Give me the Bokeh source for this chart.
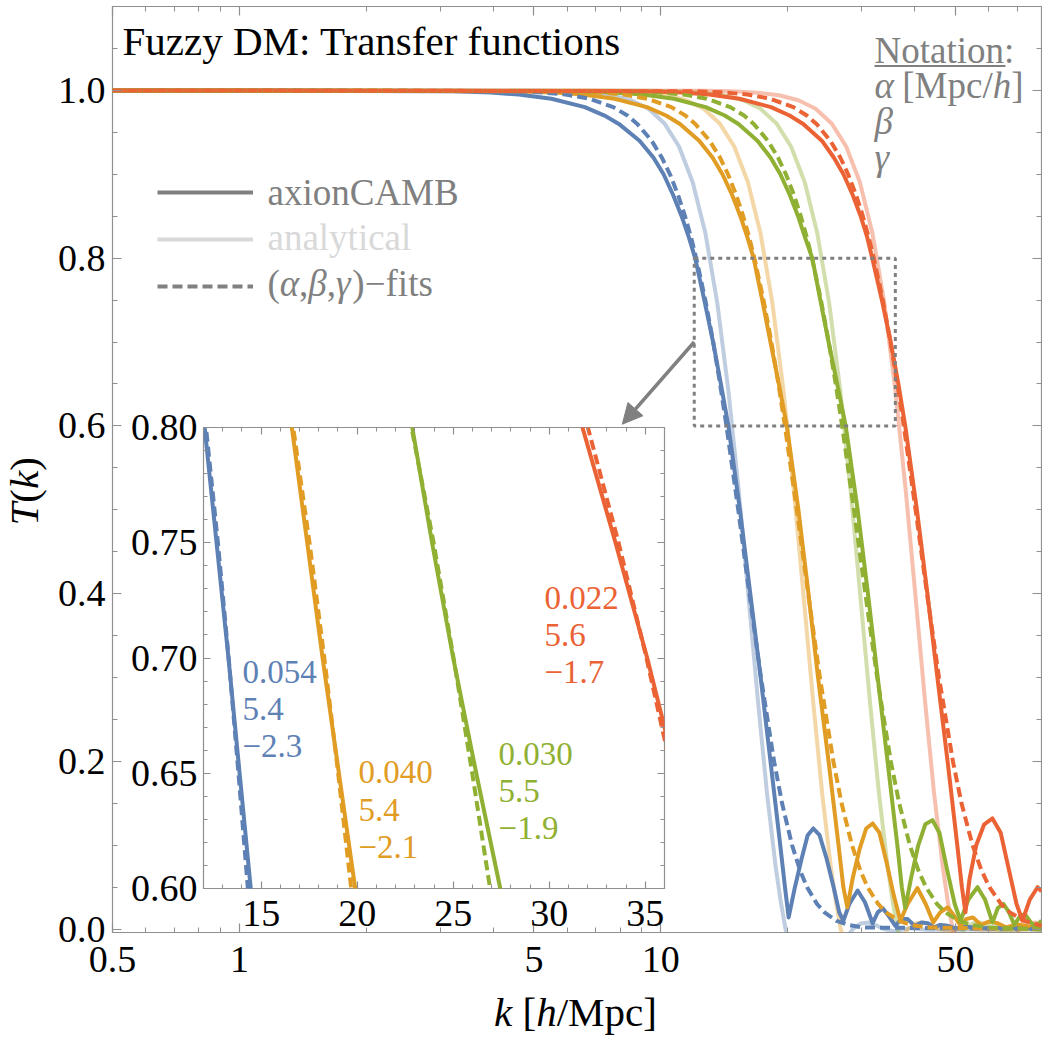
from bokeh.plotting import figure
from bokeh.models import (Range1d, FixedTicker, LogAxis, LinearAxis, Label, Legend, LegendItem,
                          BoxAnnotation, Arrow, NormalHead, CustomJSTickFormatter)
from bokeh.embed import file_html
from bokeh.resources import INLINE
from jinja2 import Template

# ------------------------------------------------------------------ data
series = ["blue", "orange", "green", "red"]
colors = ["#5E81B5", "#E19C24", "#8FB032", "#EB6235"]

# axionCAMB (solid)
camb_k_blue = [0.5, 3.2, 3.95, 4.6, 5.5, 6.6, 7.35, 7.95, 8.9, 9.6, 10.15, 10.7, 11.2, 11.65, 12.06, 12.68,
               13.3, 13.88, 14.46, 15.4, 16.3, 17.25, 18.2, 19.2, 19.7, 20.1, 20.8, 21.6, 22.3, 23.0, 23.8,
               24.7, 25.7, 26.5, 27.1, 28.0, 29.3, 30.5, 31.8, 32.7, 33.6, 34.8, 36.0, 37.2, 38.5, 40.0, 41.5,
               43.0, 44.5, 46.0, 48.0, 50.0, 53.0, 58.0, 65.0, 80.0]
camb_T_blue = [1.0, 0.999, 0.9975, 0.995, 0.99, 0.98, 0.97, 0.96, 0.94, 0.92, 0.90, 0.875, 0.85, 0.825, 0.80,
               0.75, 0.70, 0.65, 0.60, 0.50, 0.40, 0.30, 0.20, 0.10, 0.05, 0.014, 0.05, 0.085, 0.112, 0.12,
               0.112, 0.085, 0.05, 0.02, 0.01, 0.03, 0.046, 0.032, 0.007, 0.02, 0.025, 0.015, 0.004, 0.012,
               0.012, 0.004, 0.008, 0.007, 0.002, 0.005, 0.004, 0.001, 0.003, 0.001, 0.002, 0.001]
camb_k_orange = [0.5, 4.55, 5.61, 6.54, 7.77, 9.27, 10.29, 11.1, 12.33, 13.26, 14.0, 14.77, 15.44, 16.04, 16.6,
                 17.4, 18.2, 19.05, 19.9, 21.2, 22.4, 23.6, 25.0, 26.4, 27.1, 27.7, 28.5, 29.6, 30.7, 31.8,
                 33.0, 34.3, 35.7, 37.0, 38.5, 40.6, 42.5, 44.3, 46.0, 47.9, 49.8, 51.4, 53.0, 55.0, 57.5,
                 60.0, 63.0, 66.0, 70.0, 75.0, 80.0]
camb_T_orange = [1.0, 0.999, 0.9975, 0.995, 0.99, 0.98, 0.97, 0.96, 0.94, 0.92, 0.90, 0.875, 0.85, 0.825, 0.80,
                 0.75, 0.70, 0.65, 0.60, 0.50, 0.40, 0.30, 0.20, 0.10, 0.05, 0.026, 0.06, 0.095, 0.12, 0.126,
                 0.115, 0.08, 0.04, 0.01, 0.03, 0.049, 0.03, 0.008, 0.02, 0.026, 0.015, 0.004, 0.012, 0.014,
                 0.005, 0.009, 0.007, 0.002, 0.006, 0.003, 0.004]
camb_k_green = [0.5, 6.34, 7.78, 9.06, 10.74, 12.78, 14.18, 15.28, 16.95, 18.2, 19.21, 20.24, 21.16, 21.97,
                22.87, 23.9, 25.0, 26.2, 27.45, 29.3, 31.0, 32.7, 34.5, 36.4, 37.3, 38.0, 39.2, 40.8, 42.4,
                44.1, 45.8, 47.8, 49.8, 51.4, 53.6, 56.4, 58.8, 61.2, 63.0, 65.0, 67.0, 69.0, 71.0, 73.0,
                75.5, 77.5, 80.0]
camb_T_green = [1.0, 0.999, 0.9975, 0.995, 0.99, 0.98, 0.97, 0.96, 0.94, 0.92, 0.90, 0.875, 0.85, 0.825, 0.80,
                0.75, 0.70, 0.65, 0.60, 0.50, 0.40, 0.30, 0.20, 0.10, 0.05, 0.025, 0.06, 0.10, 0.125, 0.13,
                0.115, 0.07, 0.03, 0.01, 0.035, 0.05, 0.035, 0.008, 0.025, 0.03, 0.02, 0.005, 0.015, 0.018,
                0.008, 0.003, 0.01]
camb_k_red = [0.5, 9.16, 11.21, 13.01, 15.37, 18.25, 20.2, 21.77, 24.1, 25.72, 27.12, 28.54, 29.79, 30.87,
              31.73, 33.45, 35.1, 36.6, 38.0, 40.5, 42.9, 45.3, 47.9, 50.5, 51.8, 52.8, 54.0, 56.0, 58.5,
              61.2, 64.0, 67.0, 69.8, 72.1, 75.0, 78.3, 80.0]
camb_T_red = [1.0, 0.999, 0.9975, 0.995, 0.99, 0.98, 0.97, 0.96, 0.94, 0.92, 0.90, 0.875, 0.85, 0.825, 0.80,
              0.75, 0.70, 0.65, 0.60, 0.50, 0.40, 0.30, 0.20, 0.10, 0.05, 0.02, 0.06, 0.10, 0.125, 0.132,
              0.115, 0.07, 0.03, 0.01, 0.035, 0.05, 0.045]

# (alpha, beta, gamma)-fits (dashed)
fit_T = [1.0, 0.999, 0.9975, 0.995, 0.99, 0.98, 0.97, 0.96, 0.94, 0.92, 0.90, 0.875, 0.85, 0.825, 0.80, 0.75,
         0.70, 0.65, 0.60, 0.50, 0.40, 0.30, 0.20, 0.15, 0.10, 0.07, 0.05, 0.03, 0.02, 0.01, 0.005, 0.002, 0.0]
fit_k_blue = [0.5, 4.42, 5.24, 5.95, 6.77, 7.71, 8.33, 8.79, 9.51, 10.05, 10.51, 10.99, 11.41, 11.79, 12.13,
              12.75, 13.31, 13.82, 14.31, 15.26, 16.22, 17.28, 18.56, 19.39, 20.48, 21.39, 22.23, 23.47, 24.45,
              26.12, 27.82, 30.15, 80.0]
fit_k_orange = [0.5, 6.06, 7.19, 8.17, 9.30, 10.59, 11.43, 12.07, 13.05, 13.81, 14.43, 15.10, 15.68, 16.20,
                16.67, 17.52, 18.29, 19.01, 19.69, 21.01, 22.36, 23.84, 25.66, 26.84, 28.41, 29.73, 30.94,
                32.77, 34.21, 36.71, 39.28, 42.82, 80.0]
fit_k_green = [0.5, 8.45, 9.98, 11.33, 12.86, 14.61, 15.75, 16.61, 17.94, 18.96, 19.80, 20.70, 21.48, 22.19,
               22.83, 23.98, 25.02, 25.99, 26.92, 28.71, 30.56, 32.60, 35.12, 36.77, 38.97, 40.83, 42.57,
               45.19, 47.28, 50.93, 54.71, 59.99, 80.0]
fit_k_red = [0.5, 12.05, 14.19, 16.06, 18.19, 20.62, 22.20, 23.41, 25.24, 26.65, 27.82, 29.06, 30.15, 31.12,
             32.01, 33.61, 35.06, 36.40, 37.70, 40.21, 42.80, 45.70, 49.31, 51.68, 54.89, 57.64, 60.21, 64.12,
             67.28, 72.83, 78.66, 86.91, 120.0]

# analytical (light)
analytic_T = [1.0, 0.9996, 0.9989, 0.9973, 0.9942, 0.9883, 0.9780, 0.9606, 0.9328, 0.8904, 0.8293, 0.7465,
              0.6422, 0.5214, 0.3934, 0.2702, 0.1617, 0.0755, 0.0349, 0.0, -0.0535, -0.0585, -0.0243, 0.0,
              0.0067, 0.0078, 0.0049, 0.0, -0.0026, 0.0012, -0.0007, 0.0]
analytic_k_blue = [0.5, 5.10, 5.95, 6.80, 7.65, 8.50, 9.35, 10.20, 11.05, 11.90, 12.76, 13.61, 14.46, 15.31,
                   16.16, 17.01, 17.86, 18.71, 19.22, 19.76, 21.26, 23.81, 26.36, 28.52, 29.76, 31.12, 32.31,
                   33.81, 35.71, 39.12, 42.52, 120.0]
analytic_k_orange = [0.5, 6.90, 8.05, 9.20, 10.35, 11.50, 12.64, 13.79, 14.94, 16.09, 17.24, 18.39, 19.54,
                     20.69, 21.84, 22.99, 24.14, 25.29, 25.98, 26.71, 28.74, 32.19, 35.63, 38.55, 40.23, 42.07,
                     43.68, 45.70, 48.28, 52.88, 57.48, 120.0]
analytic_k_green = [0.5, 9.41, 10.97, 12.54, 14.11, 15.68, 17.24, 18.81, 20.38, 21.95, 23.51, 25.08, 26.65,
                    28.22, 29.78, 31.35, 32.92, 34.49, 35.43, 36.43, 39.19, 43.89, 48.59, 52.57, 54.86, 57.37,
                    59.57, 62.32, 65.84, 72.11, 78.38, 120.0]
analytic_k_red = [0.5, 12.71, 14.83, 16.95, 19.07, 21.19, 23.30, 25.42, 27.54, 29.66, 31.78, 33.90, 36.01,
                  38.13, 40.25, 42.37, 44.49, 46.61, 47.88, 49.23, 52.96, 59.32, 65.67, 71.05, 74.15, 77.54,
                  80.50, 84.23, 88.98, 97.45, 105.93, 120.0]

# fit parameters printed in the inset
fit_alpha = ["0.054", "0.040", "0.030", "0.022"]
fit_beta = ["5.4", "5.4", "5.5", "5.6"]
fit_gamma = ["\u22122.3", "\u22122.1", "\u22121.9", "\u22121.7"]

# axes
main_x_ticks = [0.5, 1, 5, 10, 50]
main_x_minor = [0.6, 0.7, 0.8, 0.9, 2, 3, 4, 6, 7, 8, 9, 20, 30, 40, 60, 70, 80]
main_y_ticks = [0.0, 0.2, 0.4, 0.6, 0.8, 1.0]
inset_x_ticks = [15, 20, 25, 30, 35]
inset_y_ticks = [0.60, 0.65, 0.70, 0.75, 0.80]

camb_k = [camb_k_blue, camb_k_orange, camb_k_green, camb_k_red]
camb_T = [camb_T_blue, camb_T_orange, camb_T_green, camb_T_red]
fit_k = [fit_k_blue, fit_k_orange, fit_k_green, fit_k_red]
analytic_k = [analytic_k_blue, analytic_k_orange, analytic_k_green, analytic_k_red]

# ------------------------------------------------------------------ style
FONT = "Liberation Serif"
GRAY = "#808080"
LIGHTGRAY = "#D9D9D9"
FRAME = "#8F8F8F"
W, H = 1042, 1038
FL, FB = 112, 932            # main frame left / bottom on the page
INSET_L, INSET_T = 203, 427  # inset frame left / top on the page
IN_BL, IN_BT = 95, 20        # inset borders
BASE = 0.34                  # baseline correction (fraction of font size)


def fmt(code):
    return CustomJSTickFormatter(code=code)


def style_axis(ax, major_in, minor_in, size, standoff):
    ax.axis_line_color = None
    ax.major_tick_in = major_in
    ax.major_tick_out = 0
    ax.minor_tick_in = minor_in
    ax.minor_tick_out = 0
    ax.major_tick_line_color = FRAME
    ax.minor_tick_line_color = FRAME
    ax.major_tick_line_width = 1.2
    ax.minor_tick_line_width = 1.0
    ax.major_label_text_font = FONT
    ax.major_label_text_font_size = f"{size}px"
    ax.major_label_text_color = "black"
    ax.major_label_standoff = standoff


# ------------------------------------------------------------------ main figure
p = figure(width=W, height=H, x_axis_type="log",
           x_range=Range1d(0.5, 80), y_range=Range1d(-0.004, 1.1),
           output_backend="svg", toolbar_location=None,
           min_border_left=FL, min_border_right=1, min_border_top=6, min_border_bottom=H - FB)
p.xgrid.visible = False
p.ygrid.visible = False
p.outline_line_color = FRAME
p.outline_line_width = 1.2
p.background_fill_color = "white"
p.border_fill_color = "white"

xt = FixedTicker(ticks=main_x_ticks, minor_ticks=main_x_minor)
yt = FixedTicker(ticks=main_y_ticks, minor_ticks=[round(0.05 * i, 2) for i in range(23) if i % 4])
p.xaxis.ticker = xt
p.xaxis.formatter = fmt("return tick.toString();")
p.yaxis.ticker = yt
p.yaxis.formatter = fmt("return tick.toFixed(1);")
style_axis(p.xaxis[0], 9, 5, 38, 14)
style_axis(p.yaxis[0], 9, 5, 38, 7)
top_ax = LogAxis(ticker=xt, formatter=fmt("return '';"))
right_ax = LinearAxis(ticker=yt, formatter=fmt("return '';"))
style_axis(top_ax, 9, 5, 10, 0)
style_axis(right_ax, 9, 5, 10, 0)
p.add_layout(top_ax, "above")
p.add_layout(right_ax, "right")

# analytical curves (light) first, then axionCAMB, then fits
for k, c in zip(analytic_k, colors):
    p.line(k, analytic_T, line_color=c, line_alpha=0.4, line_width=4, line_join="round")
for k, T, c in zip(camb_k, camb_T, colors):
    p.line(k, T, line_color=c, line_width=4, line_join="round")
for k, c in zip(fit_k, colors):
    p.line(k, fit_T, line_color=c, line_width=4, line_dash="10 5", line_join="round")

# zoom box and arrow
p.add_layout(BoxAnnotation(left=12, right=36, bottom=0.6, top=0.8, fill_alpha=0, line_alpha=1,
                           line_color=GRAY, line_width=3, line_dash="4 4"))
p.add_layout(Arrow(x_start=12, y_start=0.70, x_end=8.1, y_end=0.602, line_color=GRAY, line_width=3.5,
                   end=NormalHead(size=20, fill_color=GRAY, line_color=GRAY, line_width=1)))

# legend swatches
nan = float("nan")
r1 = p.line([nan], [nan], line_color=GRAY, line_width=4)
r2 = p.line([nan], [nan], line_color=LIGHTGRAY, line_width=4)
r3 = p.line([nan], [nan], line_color=GRAY, line_width=4, line_dash="10 5")
leg = Legend(items=[LegendItem(label=" ", renderers=[r1]), LegendItem(label=" ", renderers=[r2]),
                    LegendItem(label=" ", renderers=[r3])],
             location=(157 - FL, FB - 306), border_line_color=None, background_fill_alpha=0,
             padding=0, margin=0, spacing=7, glyph_width=96, glyph_height=40, label_height=40,
             label_standoff=0, label_text_font_size="10px")
p.add_layout(leg)

# ------------------------------------------------------------------ inset figure
q = figure(width=IN_BL + 461 + 6, height=IN_BT + 461 + 55,
           x_range=Range1d(12, 36), y_range=Range1d(0.6, 0.8),
           output_backend="svg", toolbar_location=None,
           min_border_left=IN_BL, min_border_right=6, min_border_top=IN_BT, min_border_bottom=55)
q.xgrid.visible = False
q.ygrid.visible = False
q.outline_line_color = FRAME
q.outline_line_width = 1.2
q.background_fill_color = "white"
q.border_fill_color = None

qxt = FixedTicker(ticks=inset_x_ticks, minor_ticks=[i for i in range(12, 37) if i % 5])
qyt = FixedTicker(ticks=inset_y_ticks, minor_ticks=[round(0.6 + 0.01 * i, 2) for i in range(21) if i % 5])
q.xaxis.ticker = qxt
q.xaxis.formatter = fmt("return tick.toFixed(0);")
q.yaxis.ticker = qyt
q.yaxis.formatter = fmt("return tick.toFixed(2);")
style_axis(q.xaxis[0], 7, 4, 38, 12)
style_axis(q.yaxis[0], 7, 4, 38, 6)
q_top = LinearAxis(ticker=qxt, formatter=fmt("return '';"))
q_right = LinearAxis(ticker=qyt, formatter=fmt("return '';"))
style_axis(q_top, 7, 4, 10, 0)
style_axis(q_right, 7, 4, 10, 0)
q.add_layout(q_top, "above")
q.add_layout(q_right, "right")

for k, T, c in zip(camb_k, camb_T, colors):
    q.line(k, T, line_color=c, line_width=4, line_join="round")
for k, c in zip(fit_k, colors):
    q.line(k, fit_T, line_color=c, line_width=4, line_dash="10 5", line_join="round")

text_pos = [(14.03, 0.6891), (20.07, 0.6455), (27.36, 0.6534), (29.75, 0.7213)]
shift = BASE * 33 / 461 * 0.2
for (tx, ty), c, a, b, g in zip(text_pos, colors, fit_alpha, fit_beta, fit_gamma):
    for j, t in enumerate((a, b, g)):
        q.add_layout(Label(x=tx, y=ty - 0.0161 * j + shift, text=t, text_font=FONT, text_font_size="33px",
                           text_color=c, text_align="left", text_baseline="alphabetic"))

# ------------------------------------------------------------------ text overlay (page pixel coordinates)
ov = figure(width=W, height=H, x_range=Range1d(0, W), y_range=Range1d(H, 0),
            output_backend="svg", toolbar_location=None, x_axis_location=None, y_axis_location=None,
            min_border_left=0, min_border_right=0, min_border_top=0, min_border_bottom=0)
ov.xgrid.visible = False
ov.ygrid.visible = False
ov.outline_line_color = None
ov.background_fill_color = None
ov.border_fill_color = None


def lab(cx, cy, text, size, color, style="normal", vertical=False):
    if vertical:
        x, y, ang = cx - BASE * size, cy, 1.5707963
    else:
        x, y, ang = cx, cy - BASE * size, 0.0
    ov.add_layout(Label(x=x, y=y, text=text, text_font=FONT, text_font_size=f"{size}px",
                        text_color=color, text_font_style=style, text_align="left",
                        text_baseline="alphabetic", angle=ang))


def pieces(cx, cy, parts, size, color, vertical=False):
    off = 0.0
    for text, style, w in parts:
        if vertical:
            lab(cx, cy - off, text, size, color, style, vertical=True)
        else:
            lab(cx + off, cy, text, size, color, style)
        off += w * size


# title
lab(122, 54, "Fuzzy DM: Transfer functions", 41, "black")
# axis labels
pieces(493.6, 1025, [("k", "italic", 0.694), ("[", "normal", 0.333), ("h", "italic", 0.5),
                     ("/Mpc]", "normal", 2.444)], 41, "black")
pieces(37, 525, [("T", "italic", 0.556), ("(", "normal", 0.333), ("k", "italic", 0.444),
                 (")", "normal", 0.333)], 41, "black", vertical=True)
# legend texts
lab(267, 205, "axionCAMB", 37, GRAY)
lab(267, 250, "analytical", 37, LIGHTGRAY)
pieces(267, 296, [("(", "normal", 0.333), ("\u03b1", "italic", 0.52), (",", "normal", 0.25),
                  ("\u03b2", "italic", 0.5), (",", "normal", 0.25), ("\u03b3", "italic", 0.44),
                  (")\u2212fits", "normal", 2.2)], 37, GRAY)
# notation box
lab(874, 63, "Notation:", 37, GRAY)
ov.add_layout(BoxAnnotation(left=874, right=1005, top=64.6, bottom=66.4, fill_color=GRAY, fill_alpha=1,
                            line_color=None))
pieces(874, 98, [("\u03b1", "italic", 0.75), ("[Mpc/", "normal", 2.444), ("h", "italic", 0.5),
                 ("]", "normal", 0.333)], 37, GRAY)
lab(874, 134, "\u03b2", 37, GRAY, "italic")
lab(874, 170, "\u03b3", 37, GRAY, "italic")

# ------------------------------------------------------------------ page
PAGE = Template("""{% from macros import embed %}
<!DOCTYPE html>
<html lang="en">
  <head>
    <meta charset="utf-8">
    <title>Fuzzy DM: Transfer functions</title>
    <style>
      html, body { margin: 0; padding: 0; background: #ffffff; overflow: hidden; }
      .slot { position: absolute; }
    </style>
    {{ bokeh_css | indent(4) if bokeh_css }}
    {{ bokeh_js | indent(4) if bokeh_js }}
  </head>
  <body>
    <div class="slot" style="left: 0px; top: 0px;">{{ embed(roots[0]) }}</div>
    <div class="slot" style="left: {{ inset_left }}px; top: {{ inset_top }}px;">{{ embed(roots[1]) }}</div>
    <div class="slot" style="left: 0px; top: 0px;">{{ embed(roots[2]) }}</div>
    {{ plot_script | indent(4) }}
  </body>
</html>
""")

html = file_html([p, q, ov], INLINE, template=PAGE,
                 template_variables={"inset_left": INSET_L - IN_BL, "inset_top": INSET_T - IN_BT})
open("out.html", "w").write(html)
